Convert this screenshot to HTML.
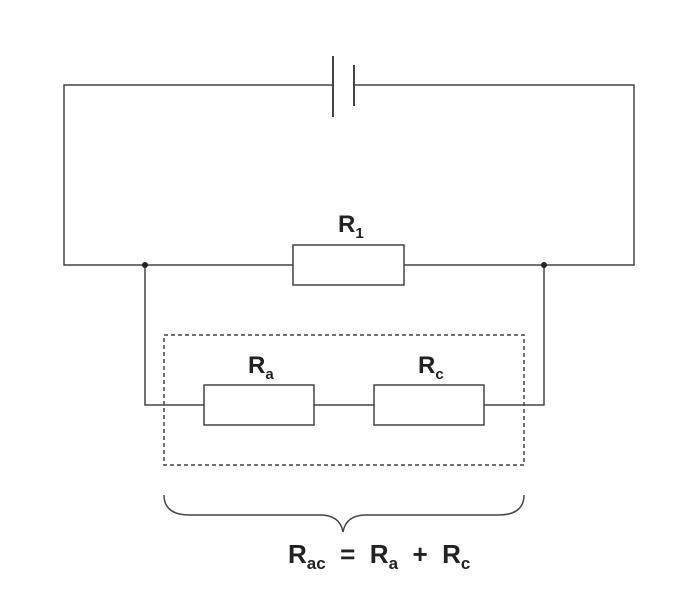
<!DOCTYPE html>
<html><head><style>body{margin:0;background:#fff}svg{display:block}</style></head><body>
<svg width="696" height="600" viewBox="0 0 696 600" xmlns="http://www.w3.org/2000/svg">
<g stroke="#444" stroke-width="1.5" fill="none">
<path d="M333 85 H64 V265 H293 M404 265 H634 V85 H354"/>
<line x1="333" y1="56" x2="333" y2="117" stroke-width="2"/>
<line x1="354" y1="65" x2="354" y2="106" stroke-width="2"/>
<rect x="293" y="245" width="111" height="40"/>
<path d="M145 265 V405 H204 M314 405 H374 M484 405 H544 V265"/>
<rect x="204" y="385" width="110" height="40"/>
<rect x="374" y="385" width="110" height="40"/>
<rect x="164" y="335" width="360" height="130" stroke-dasharray="4,3"/>
<path d="M164 495 Q164 515 190 515 H320 Q340 515 343 532 Q346 515 366 515 H498 Q524 515 524 495"/>
</g>
<circle cx="145" cy="265" r="3" fill="#222"/>
<circle cx="544" cy="265" r="3" fill="#222"/>
<g font-family="Liberation Sans, sans-serif" font-weight="bold" fill="#222">
<text x="338" y="232" font-size="24">R<tspan font-size="15" dy="6">1</tspan></text>
<text x="248" y="373" font-size="24">R<tspan font-size="15" dy="6">a</tspan></text>
<text x="418" y="373" font-size="24">R<tspan font-size="15" dy="6">c</tspan></text>
<text x="288" y="563" font-size="26" xml:space="preserve">R<tspan font-size="17" dy="6">ac</tspan><tspan dy="-6">  =  R</tspan><tspan font-size="17" dy="6">a</tspan><tspan dy="-6">  +  R</tspan><tspan font-size="17" dy="6">c</tspan></text>
</g>
</svg>
</body></html>
